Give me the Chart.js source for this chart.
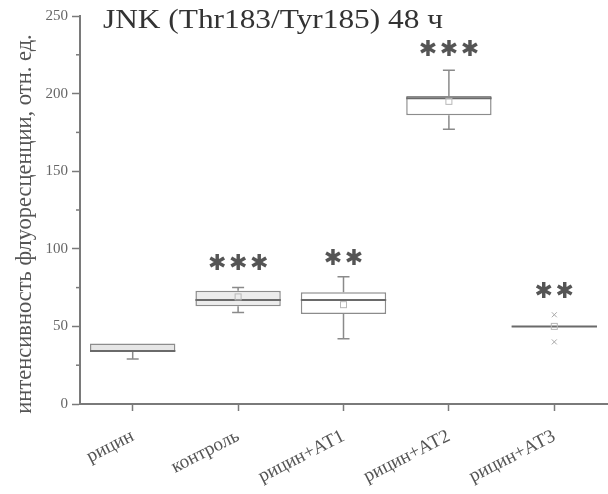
<!DOCTYPE html>
<html>
<head>
<meta charset="utf-8">
<script src="https://cdn.jsdelivr.net/npm/chart.js@4/dist/chart.umd.min.js"></script>
<style>
html,body{margin:0;padding:0;background:#fff;}
#wrap{width:608px;height:494px;}
</style>
</head>
<body>
<div id="wrap"><canvas id="c" width="608" height="494"></canvas></div>
<script>
const categories = ['рицин', 'контроль', 'рицин+АТ1', 'рицин+АТ2', 'рицин+АТ3'];
const q1 = [33.8, 63, 58, 186, 49.7];
const q3 = [39, 73, 72, 198.5, 50.3];
const median = [34.2, 67, 67, 197, 50];
const whiskerMin = [29, 59, 42, 177, 50];
const whiskerMax = [39, 75, 82, 215, 50];
const mean = [null, 69, 64, 195, 50];
const extraLow = [null, null, null, null, 40];
const extraHigh = [null, null, null, null, 57.5];
const stars = ['', '***', '**', '***', '**'];
const starLevel = [null, 90, 93, 228, 72];
const yTicksMajor = [0, 50, 100, 150, 200, 250];
const titleText = 'JNK (Thr183/Tyr185) 48 ч';
const yTitle = 'интенсивность флуоресценции, отн. ед.';
const boxFill = ['#e6e6e6', '#ececec', '#ffffff', '#ffffff', '#ffffff'];

const SERIF = '"Liberation Serif", "DejaVu Serif", serif';
const AXIS = '#7a7a7a';

const boxPlugin = {
  id: 'boxExtras',
  afterDatasetsDraw(chart) {
    const ctx = chart.ctx;
    const xs = chart.scales.x, ys = chart.scales.y;
    const meta = chart.getDatasetMeta(0);
    ctx.save();
    categories.forEach((c, i) => {
      const x = xs.getPixelForValue(i);
      const bar = meta.data[i];
      const half = bar.width / 2;
      ctx.strokeStyle = '#8a8a8a';
      ctx.lineWidth = 1.5;
      const yq1 = ys.getPixelForValue(q1[i]);
      const yq3 = ys.getPixelForValue(q3[i]);
      const yMin = ys.getPixelForValue(whiskerMin[i]);
      const yMax = ys.getPixelForValue(whiskerMax[i]);
      if (whiskerMax[i] > q3[i]) {
        ctx.beginPath(); ctx.moveTo(x, yq3); ctx.lineTo(x, yMax);
        ctx.moveTo(x - 6, yMax); ctx.lineTo(x + 6, yMax); ctx.stroke();
      }
      if (whiskerMin[i] < q1[i]) {
        ctx.beginPath(); ctx.moveTo(x, yq1); ctx.lineTo(x, yMin);
        ctx.moveTo(x - 6, yMin); ctx.lineTo(x + 6, yMin); ctx.stroke();
      }
      const ym = ys.getPixelForValue(median[i]);
      ctx.strokeStyle = '#6a6a6a';
      ctx.lineWidth = 2;
      ctx.beginPath(); ctx.moveTo(x - half, ym); ctx.lineTo(x + half, ym); ctx.stroke();
      if (mean[i] !== null) {
        const yMean = ys.getPixelForValue(mean[i]);
        ctx.strokeStyle = '#b8b8b8';
        ctx.lineWidth = 1;
        ctx.strokeRect(x - 3, yMean - 3, 6, 6);
      }
      [extraLow[i], extraHigh[i]].forEach(v => {
        if (v === null) return;
        const yy = ys.getPixelForValue(v);
        ctx.strokeStyle = '#a8a8a8';
        ctx.lineWidth = 1;
        ctx.beginPath();
        ctx.moveTo(x - 2.5, yy - 2.5); ctx.lineTo(x + 2.5, yy + 2.5);
        ctx.moveTo(x + 2.5, yy - 2.5); ctx.lineTo(x - 2.5, yy + 2.5);
        ctx.stroke();
      });
      if (stars[i]) {
        const ys0 = ys.getPixelForValue(starLevel[i]);
        const n = stars[i].length;
        ctx.fillStyle = '#555';
        ctx.font = '22px "DejaVu Sans", sans-serif';
        ctx.textAlign = 'center';
        ctx.textBaseline = 'middle';
        for (let k = 0; k < n; k++) {
          const sx = x + (k - (n - 1) / 2) * 21;
          ctx.fillText('✱', sx, ys0);
        }
      }
    });
    ctx.strokeStyle = AXIS;
    ctx.lineWidth = 1.5;
    ys.ticks.forEach(t => {
      if (yTicksMajor.indexOf(t.value) === -1) {
        const yy = ys.getPixelForValue(t.value);
        ctx.beginPath(); ctx.moveTo(chart.chartArea.left - 4, yy); ctx.lineTo(chart.chartArea.left, yy); ctx.stroke();
      }
    });
    // y-axis title
    ctx.save();
    ctx.fillStyle = '#555';
    ctx.font = '22.5px ' + SERIF;
    ctx.textAlign = 'center';
    ctx.textBaseline = 'middle';
    ctx.translate(25, chart.chartArea.top + 208);
    ctx.rotate(-Math.PI / 2);
    ctx.fillText(yTitle, 0, 0);
    ctx.restore();
    // title
    ctx.fillStyle = '#333';
    ctx.font = '27px ' + SERIF;
    ctx.textAlign = 'left';
    ctx.textBaseline = 'alphabetic';
    const w = ctx.measureText(titleText).width;
    const sx = 340 / w;
    ctx.translate(chart.chartArea.left + 23, chart.chartArea.top + 12);
    ctx.scale(sx, 1);
    ctx.fillText(titleText, 0, 0);
    ctx.restore();
  }
};

new Chart(document.getElementById('c'), {
  type: 'bar',
  data: {
    labels: categories,
    datasets: [{
      data: categories.map((c, i) => [q1[i], q3[i]]),
      backgroundColor: boxFill,
      borderColor: '#8c8c8c',
      borderWidth: 1.5,
      borderSkipped: false,
      categoryPercentage: 1,
      barPercentage: 0.81
    }]
  },
  options: {
    responsive: false,
    animation: false,
    layout: { padding: { top: 16, right: 1, left: 0, bottom: 0 } },
    plugins: { legend: { display: false }, tooltip: { enabled: false }, title: { display: false } },
    scales: {
      x: {
        offset: true,
        grid: { offset: false, drawOnChartArea: false, drawTicks: true, tickLength: 7, tickColor: AXIS, tickWidth: 1.5 },
        border: { color: AXIS, width: 2 },
        ticks: {
          minRotation: 27, maxRotation: 27, padding: 14,
          color: '#555',
          font: { family: SERIF, size: 19 }
        },
        afterFit(scale) { scale.height = 90; }
      },
      y: {
        min: 0, max: 250,
        grid: {
          drawOnChartArea: false, drawTicks: true, tickLength: 8, tickWidth: 1.5,
          tickColor: ctx => (yTicksMajor.indexOf(ctx.tick.value) !== -1 ? AXIS : 'rgba(0,0,0,0)')
        },
        border: { color: AXIS, width: 2 },
        ticks: {
          stepSize: 25, padding: 4, color: '#666',
          font: { family: SERIF, size: 15 },
          callback: v => (yTicksMajor.indexOf(v) !== -1 ? String(v) : '')
        },
        title: { display: false },
        afterFit(scale) { scale.width = 80; }
      }
    }
  },
  plugins: [boxPlugin]
});
</script>
</body>
</html>
